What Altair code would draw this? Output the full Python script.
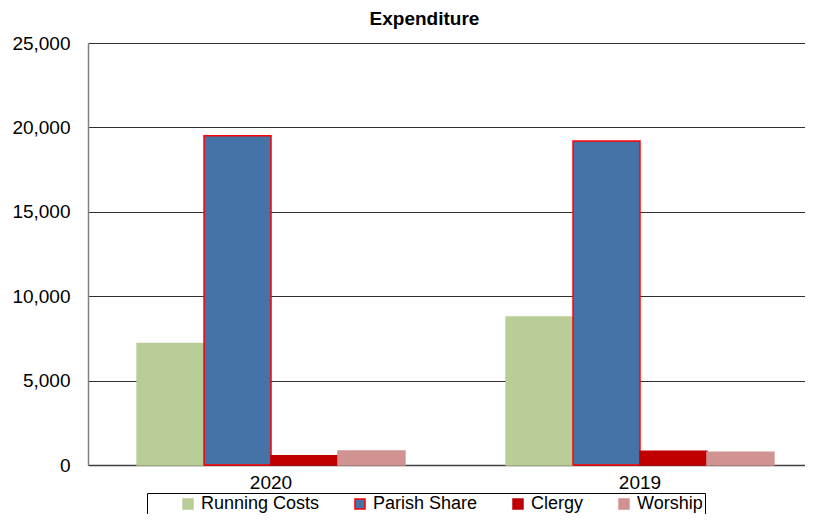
import altair as alt
import pandas as pd

years = ["2020", "2019"]
categories = ["Running Costs", "Parish Share", "Clergy", "Worship"]
values_2020 = [7200, 19500, 550, 830]
values_2019 = [8770, 19200, 810, 750]

fills = ["#B9CD96", "#4572A7", "#C00000", "#D19392"]
strokes = ["#B9CD96", "#FF0000", "#C00000", "#D19392"]

rows = []
for y, vals in zip(years, [values_2020, values_2019]):
    for c, v in zip(categories, vals):
        rows.append({"Year": y, "Category": c, "Value": v})
df = pd.DataFrame(rows)

FONT = "Liberation Sans"

chart = alt.Chart(df).mark_bar(strokeWidth=1.5).encode(
    x=alt.X("Year:N", sort=years, title=None,
            scale=alt.Scale(paddingInner=0.274, paddingOuter=0.133, range=[0, 735]),
            axis=alt.Axis(labelAngle=0, labelFontSize=19, labelColor="#000",
                          labelFont=FONT, ticks=False, labelPadding=8,
                          domainColor="#404040", domainWidth=1.5)),
    xOffset=alt.XOffset("Category:N", sort=categories),
    y=alt.Y("Value:Q", title=None,
            scale=alt.Scale(domain=[0, 25000]),
            axis=alt.Axis(values=[0, 5000, 10000, 15000, 20000, 25000],
                          labelExpr="format(datum.value, ',')",
                          labelFontSize=19, labelColor="#000", labelFont=FONT,
                          ticks=False, labelPadding=18, gridColor="#303030",
                          gridOpacity=1, domainColor="#808080", domainWidth=1.5)),
    fill=alt.Fill("Category:N", sort=categories,
                  scale=alt.Scale(domain=categories, range=fills),
                  legend=alt.Legend(title="\u00a0", titleOrient="left", titlePadding=30,
                                    orient="none", direction="horizontal",
                                    legendX=59, legendY=450, symbolType="square",
                                    symbolSize=100, symbolStrokeWidth=1.5,
                                    labelFontSize=18, labelFont=FONT, labelColor="#000",
                                    strokeColor="#000", padding=2,
                                    columnPadding=31, symbolOffset=0, labelOffset=4)),
    stroke=alt.Stroke("Category:N", sort=categories,
                      scale=alt.Scale(domain=categories, range=strokes),
                      legend=None),
).properties(
    width=717,
    height=422,
    title=alt.Title("Expenditure", fontSize=19, font=FONT, fontWeight="bold",
                    anchor="middle", offset=5, dx=-22),
    autosize=alt.AutoSizeParams(type="none"),
    padding={"left": 80, "top": 35, "right": 0, "bottom": 49},
).configure_view(stroke=None).configure_axis(grid=True).configure_axisX(grid=False)

chart.save("out.html", embed_options={"renderer": "svg", "actions": False})
